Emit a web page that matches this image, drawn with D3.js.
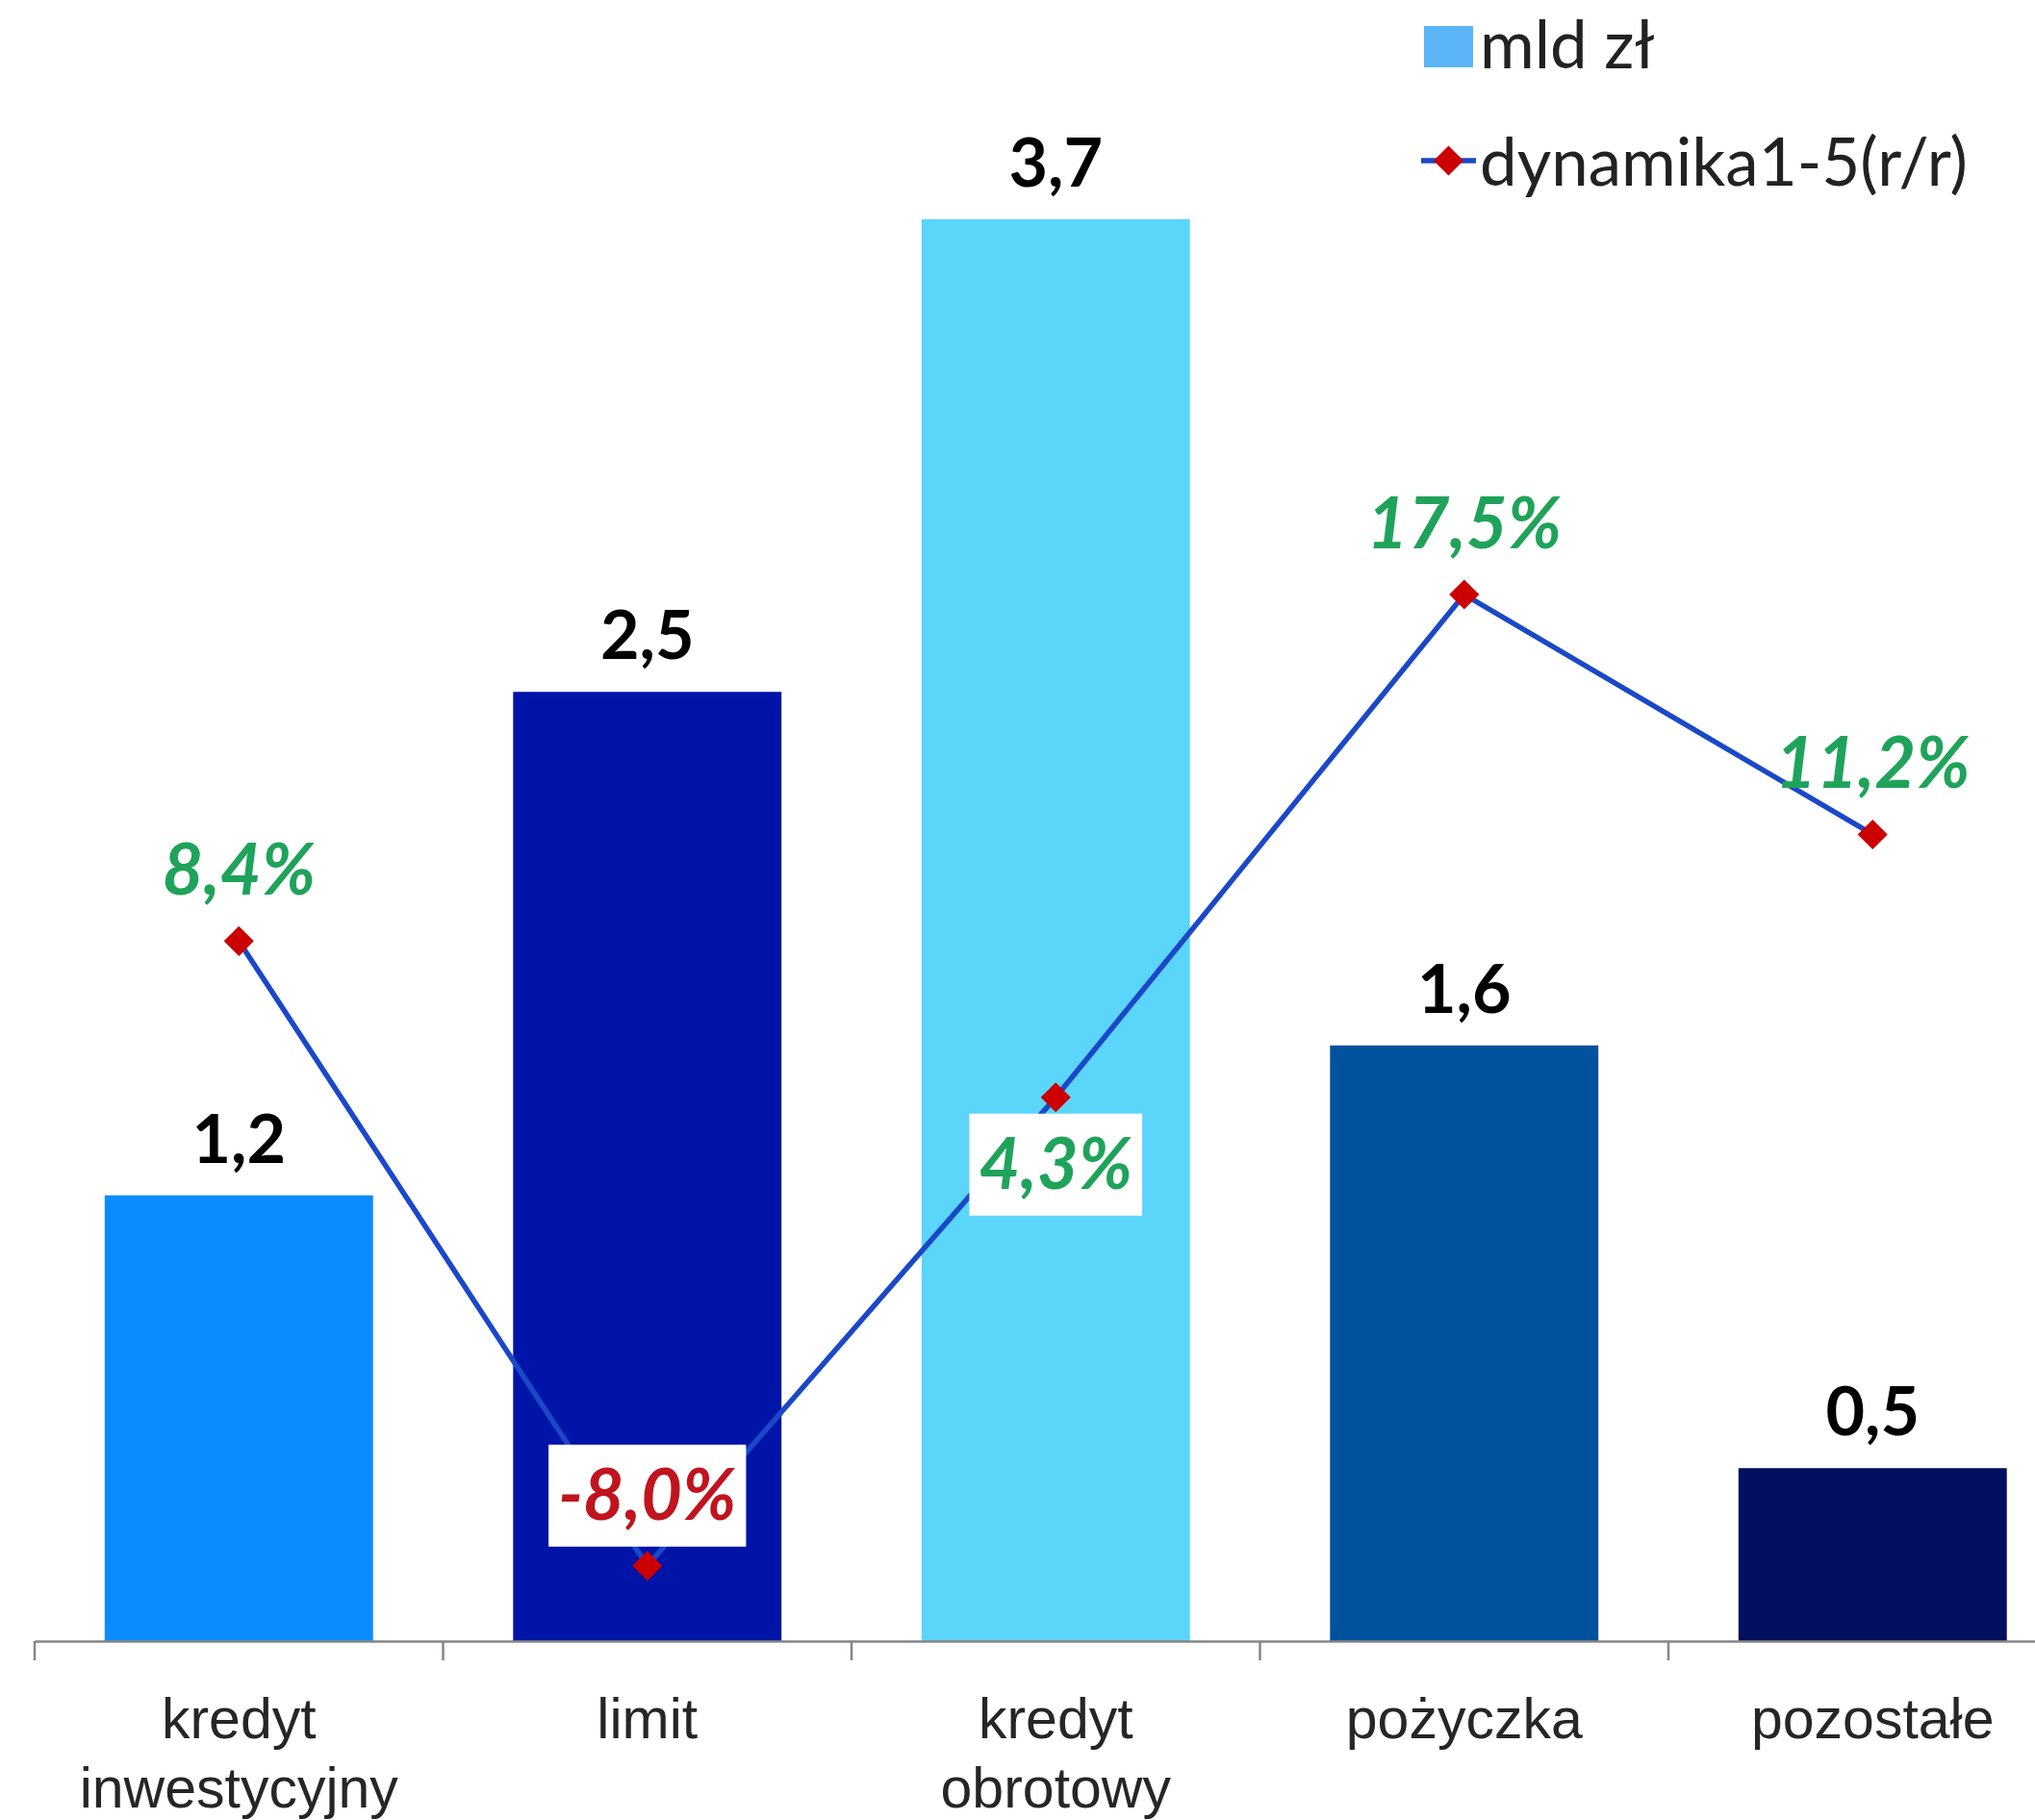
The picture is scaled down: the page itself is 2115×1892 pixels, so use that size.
<!DOCTYPE html>
<html>
<head>
<meta charset="utf-8">
<script src="https://cdn.jsdelivr.net/npm/d3@7"></script>
<style>
  body { margin: 0; background: #fff; }
  svg { display: block; font-family: Lato, "Open Sans", sans-serif; }
</style>
</head>
<body>
<script>
// chart data
var categories = ["kredyt\ninwestycyjny", "limit", "kredyt\nobrotowy", "pożyczka", "pozostałe"];
var volumes = [1.16, 2.47, 3.70, 1.55, 0.45];      // mld zł
var growth = [0.084, -0.080, 0.043, 0.175, 0.112];  // dynamika 1-5 (r/r)
var seriesNames = ["mld zł", "dynamika1-5(r/r)"];

// look
var barColors = ["#0A8CFF", "#0014A8", "#5CD5FA", "#00529C", "#020F5E"];
var labelBelow = [false, false, true, false, false];
var labelBoxed = [false, true, true, false, false];

var W = 2115, H = 1892;
var axisY = 1706, plotTop = 108, plotTop2 = 123;

var pl = d3.formatLocale({decimal: ",", thousands: " ", grouping: [3], currency: ["", " zł"], minus: "-"});
var fmtVal = pl.format(".1f");
var fmtPct = pl.format(".1%");

var svg = d3.select("body").append("svg")
  .attr("width", W)
  .attr("height", H);

svg.append("rect").attr("width", W).attr("height", H).attr("fill", "#fff");

var x = d3.scaleBand().domain(categories).range([36, 36 + 5 * 424.5]).padding(0);
var y = d3.scaleLinear().domain([0, 4]).range([axisY, plotTop]);
var y2 = d3.scaleLinear().domain([-0.10, 0.30]).range([axisY + 1, plotTop2]);

var barW = x.bandwidth() * 0.657;
var cx = function(i) { return x(categories[i]) + x.bandwidth() / 2; };

// bars
svg.selectAll(".bar").data(volumes).enter().append("rect")
  .attr("class", "bar")
  .attr("x", function(d, i) { return cx(i) - barW / 2; })
  .attr("y", function(d) { return y(d); })
  .attr("width", barW)
  .attr("height", function(d) { return axisY - y(d); })
  .attr("fill", function(d, i) { return barColors[i]; });

// bar value labels
svg.selectAll(".vlab").data(volumes).enter().append("text")
  .attr("class", "vlab")
  .attr("x", function(d, i) { return cx(i); })
  .attr("y", function(d) { return y(d) - 34; })
  .attr("text-anchor", "middle")
  .attr("font-size", 70)
  .attr("font-weight", "bold")
  .attr("fill", "#000")
  .text(function(d) { return fmtVal(d); });

// x axis
var axis = svg.append("g")
  .attr("transform", "translate(0," + axisY + ")")
  .call(d3.axisBottom(x).tickSize(0).tickFormat(""));
axis.select(".domain").attr("stroke", "#868686").attr("stroke-width", 2.5);

var bounds = categories.map(function(c) { return x(c); }).concat([x.range()[1]]);
axis.selectAll(".btick").data(bounds).enter().append("line")
  .attr("class", "btick")
  .attr("x1", function(d) { return d; })
  .attr("x2", function(d) { return d; })
  .attr("y1", 0)
  .attr("y2", 20)
  .attr("stroke", "#868686")
  .attr("stroke-width", 2.5);

axis.selectAll(".tick").append("text")
  .attr("fill", "#262626")
  .attr("font-size", 59)
  .attr("text-anchor", "middle")
  .selectAll("tspan")
  .data(function(d) { return d.split("\n"); })
  .enter().append("tspan")
  .attr("x", 0)
  .attr("y", function(d, i) { return 101 + i * 72; })
  .text(function(d) { return d; });

// growth line
var line = d3.line()
  .x(function(d, i) { return cx(i); })
  .y(function(d) { return y2(d); });

svg.append("path")
  .datum(growth)
  .attr("d", line)
  .attr("fill", "none")
  .attr("stroke", "#1A48C8")
  .attr("stroke-width", 5.5);

svg.selectAll(".mark").data(growth).enter().append("rect")
  .attr("class", "mark")
  .attr("x", -11).attr("y", -11)
  .attr("width", 22).attr("height", 22)
  .attr("fill", "#CC0000")
  .attr("transform", function(d, i) { return "translate(" + cx(i) + "," + y2(d) + ") rotate(45)"; });

// growth labels
var glab = svg.selectAll(".glab").data(growth).enter().append("g")
  .attr("class", "glab")
  .attr("transform", function(d, i) {
    var by = labelBelow[i] ? y2(d) + 95 : y2(d) - 48;
    return "translate(" + cx(i) + "," + by + ")";
  });

glab.append("text")
  .attr("text-anchor", "middle")
  .attr("font-size", 74)
  .attr("font-weight", "bold")
  .attr("font-style", "italic")
  .attr("fill", function(d) { return d < 0 ? "#C0141E" : "#1FA35A"; })
  .text(function(d) { return fmtPct(d); });

glab.each(function(d, i) {
  if (!labelBoxed[i]) return;
  var g = d3.select(this);
  var bb = g.select("text").node().getBBox();
  g.insert("rect", "text")
    .attr("x", bb.x - 10)
    .attr("y", -78)
    .attr("width", bb.width + 20)
    .attr("height", 106)
    .attr("fill", "#fff");
});

// legend
var leg = svg.append("g");
leg.append("rect")
  .attr("x", 1480).attr("y", 27)
  .attr("width", 51).attr("height", 43)
  .attr("fill", "#5BB4F5");
leg.append("text")
  .attr("x", 1538).attr("y", 71)
  .attr("font-size", 69)
  .attr("fill", "#222")
  .text(seriesNames[0]);
leg.append("line")
  .attr("x1", 1477).attr("x2", 1534)
  .attr("y1", 167).attr("y2", 167)
  .attr("stroke", "#1A48C8")
  .attr("stroke-width", 5.5);
leg.append("rect")
  .attr("x", -11).attr("y", -11)
  .attr("width", 22).attr("height", 22)
  .attr("fill", "#CC0000")
  .attr("transform", "translate(1505.5,167) rotate(45)");
leg.append("text")
  .attr("x", 1538).attr("y", 193)
  .attr("font-size", 69)
  .attr("fill", "#222")
  .text(seriesNames[1]);
</script>
</body>
</html>
